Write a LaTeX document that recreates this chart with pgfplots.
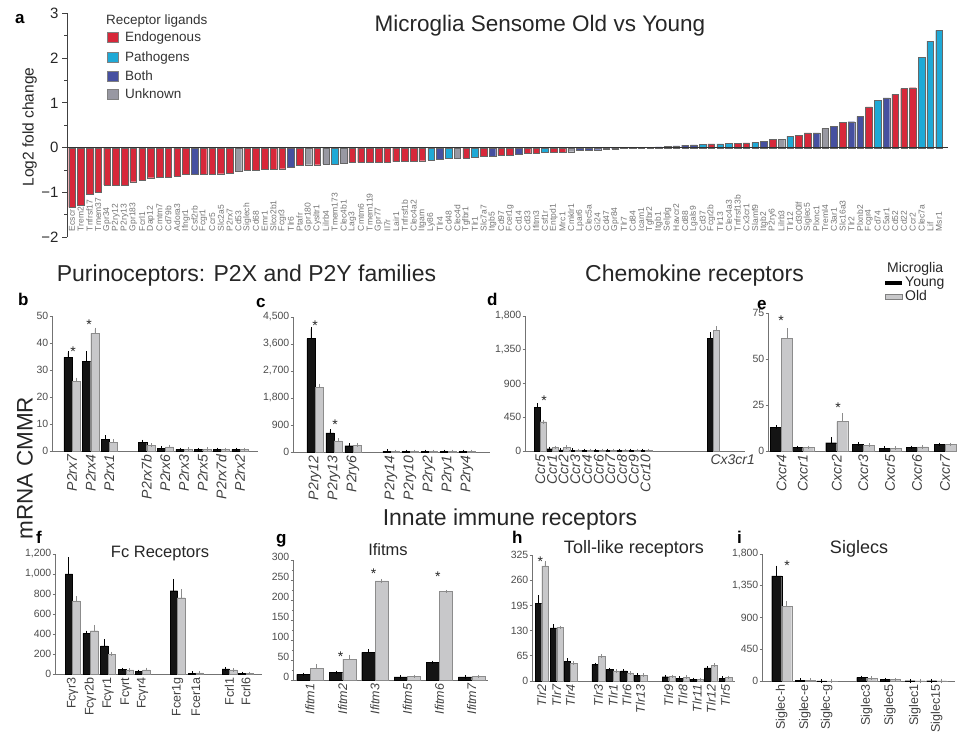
\documentclass[border=0pt]{standalone}
\usepackage{fontspec}
\setmainfont{Liberation Sans}
\usepackage{pgfplots}
\pgfplotsset{compat=1.18}
\definecolor{endo}{HTML}{D7283A}
\definecolor{patho}{HTML}{1FA9D6}
\definecolor{both}{HTML}{4650A0}
\definecolor{unkn}{HTML}{9898A2}
\definecolor{oldc}{HTML}{C8C8CA}
\pgfplotsset{
 lp/.style={
   anchor=south west, scale only axis,
   axis x line*=bottom, axis y line*=left,
   axis line style={black!55, line width=0.7pt},
   ymin=0, clip=false,
   tick align=outside, major tick length=2.5pt, minor tick length=1.5pt,
   xtick style={draw=none},
   ytick style={black!55, line width=0.6pt},
   yticklabel style={font=\fontsize{10.5}{10.5}\selectfont, text=black!70, inner sep=1pt},
   xticklabel style={rotate=90, anchor=east, inner sep=1pt, font=\fontsize{14}{14}\selectfont\itshape, text=black!75},
   /pgf/number format/assume math mode=true,
   /pgf/number format/1000 sep={,},
   ybar, xtick=data,
 },
 lpl/.style={lp, xticklabel style={font=\fontsize{12.5}{12.5}\selectfont\itshape}},
 young/.style={fill=black!92, draw=black, line width=0.3pt,
   error bars/y dir=plus, error bars/y explicit,
   error bars/error bar style={black, line width=0.6pt},
   error bars/error mark options={black, mark size=1.8pt, line width=0.6pt}},
 old/.style={fill=oldc, draw=black!45, line width=0.3pt,
   error bars/y dir=plus, error bars/y explicit,
   error bars/error bar style={black!45, line width=0.6pt},
   error bars/error mark options={black!45, mark size=1.8pt, line width=0.6pt}},
 abar/.style={draw=black!60, line width=0.3pt, bar shift=0pt},
}
\tikzset{star/.style={font=\fontsize{14}{14}\selectfont, anchor=base, yshift=-8pt, inner sep=0pt, text=black!85},
 ptitle/.style={anchor=base, text=black!85},
 plet/.style={anchor=base west, font=\fontsize{17}{17}\selectfont\bfseries, inner sep=0pt}}
\begin{document}
\begin{tikzpicture}[x=1pt,y=1pt]
\useasboundingbox (0,0) rectangle (958,735);
% ---------------- panel a ----------------
\begin{axis}[
  at={(67pt,497.7pt)}, anchor=south west, scale only axis,
  width=881pt, height=224pt,
  xmin=0.43, xmax=101.03, ymin=-2, ymax=3,
  axis y line*=left, axis x line*=bottom, separate axis lines,
  x axis line style={draw=none},
  y axis line style={black!75, line width=0.9pt},
  ytick={-2,-1,0,1,2,3}, yticklabels={−2,−1,0,1,2,3},
  minor y tick num=1,
  tick align=outside, major tick length=5pt, minor tick length=3pt,
  ytick style={black!75, line width=0.8pt},
  yticklabel style={font=\fontsize{15}{15}\selectfont, text=black!85},
  xtick={1,...,100},
  xticklabels={Ecscr,Trem2,Tnfrsf17,Tmem37,Gpr34,P2ry12,P2ry13,Gpr183,Fcrl1,Dap12,Cmtm7,Cd79b,Adora3,Ifngr1,Csf2rb,Fcgr1,Ccr5,Slc2a5,P2rx7,Cd53,Siglech,Cd68,Emr1,Slco2b1,Fcgr3,Tlr6,Ptafr,Gpr180,Cysltr1,Lilrb4,Tmem173,Clec4b1,Lag3,Cmtm6,Tmem119,Gpr77,Il7r,Lair1,Tnfrsf1b,Clec4a2,Itgam,Ly86,Tlr4,Cd48,Clec4d,Tgfbr1,Tlr1,Slc7a7,Itgb5,Cd97,Fcer1g,Cd14,Cd33,Ifitm3,Csf1r,Entpd1,Mrc1,Cmklr1,Lpar6,Clec5a,Gi24,Cd47,Gpr84,Tlr7,Cd84,Icam1,Tgfbr2,Itgb1,Selplg,Havcr2,Cd88,Lgals9,Cd37,Fcgr2b,Tlr13,Clec4a3,Tnfrsf13b,Cx3cr1,Slamf9,Itgb2,P2ry6,Lilrb3,Tlr12,Cd300lf,Siglec5,Plxnc1,Treml4,C3ar1,Slc16a3,Tlr2,Plxnb2,Fcgr4,Cd74,C5ar1,Cd52,Cd22,Ccr2,Clec7a,Lif,Msr1},
  xtick style={draw=none},
  xticklabel style={rotate=90, anchor=west, inner sep=0pt, font=\fontsize{8.5}{8.5}\selectfont, text=black!55},
  xticklabel shift=-11pt,
  ybar, bar width=6.6pt,
  clip=false,
]
\addplot[abar, fill=endo] coordinates {(1,-1.33) (2,-1.28) (3,-1.03) (4,-1.00) (5,-0.83) (6,-0.83) (7,-0.83) (8,-0.76) (9,-0.72) (10,-0.67) (11,-0.66) (12,-0.66) (13,-0.63) (14,-0.60) (16,-0.59) (17,-0.59) (18,-0.58) (19,-0.57) (21,-0.51) (22,-0.50) (23,-0.49) (24,-0.48) (25,-0.47) (27,-0.39) (29,-0.38) (33,-0.33) (34,-0.33) (35,-0.32) (36,-0.32) (37,-0.32) (38,-0.31) (39,-0.31) (40,-0.30) (41,-0.29) (46,-0.23) (48,-0.20) (50,-0.17) (51,-0.16) (53,-0.13) (54,-0.13) (56,-0.10) (57,-0.10) (74,0.085) (77,0.10) (78,0.11) (81,0.18) (84,0.28) (85,0.33) (89,0.56) (92,0.91) (95,1.19) (96,1.32) (97,1.34)};
\addplot[abar, fill=patho] coordinates {(31,-0.36) (42,-0.27) (44,-0.24) (47,-0.22) (55,-0.11) (73,0.08) (75,0.085) (76,0.10) (79,0.115) (83,0.26) (93,1.05) (98,2.01) (99,2.38) (100,2.62)};
\addplot[abar, fill=both] coordinates {(15,-0.60) (26,-0.44) (43,-0.25) (49,-0.19) (52,-0.15) (59,-0.06) (60,-0.05) (61,-0.045) (62,-0.035) (63,-0.025) (64,-0.015) (65,-0.008) (66,0.005) (67,0.012) (68,0.02) (69,0.025) (70,0.04) (71,0.055) (72,0.065) (80,0.145) (86,0.33) (88,0.47) (90,0.58) (91,0.70) (94,1.11)};
\addplot[abar, fill=unkn] coordinates {(20,-0.52) (28,-0.38) (30,-0.36) (32,-0.35) (45,-0.24) (58,-0.09) (82,0.19) (87,0.43)};
\addplot[black!80, line width=0.9pt, sharp plot, forget plot] coordinates {(0.43,0) (101.03,0)};
\end{axis}
\node[plet] at (15,711.7) {a};
\node[rotate=90, font=\fontsize{15.5}{15.5}\selectfont, text=black!85] at (29.5,608) {Log2 fold change};
\node[ptitle, font=\fontsize{22.5}{22.5}\selectfont] at (540,703.3) {Microglia Sensome Old vs Young};
\node[anchor=base west, font=\fontsize{13.5}{13.5}\selectfont, text=black!80, inner sep=0pt] at (106,710) {Receptor ligands};
\filldraw[fill=endo, draw=black!50, line width=0.3pt] (107,693) rectangle (118,703);
\filldraw[fill=patho, draw=black!50, line width=0.3pt] (107,673) rectangle (118,683);
\filldraw[fill=both, draw=black!50, line width=0.3pt] (107,654) rectangle (118,664);
\filldraw[fill=unkn, draw=black!50, line width=0.3pt] (107,636) rectangle (118,646);
\node[anchor=base west, font=\fontsize{13.5}{13.5}\selectfont, text=black!80, inner sep=0pt] at (125,693.5) {Endogenous};
\node[anchor=base west, font=\fontsize{13.5}{13.5}\selectfont, text=black!80, inner sep=0pt] at (125,673.5) {Pathogens};
\node[anchor=base west, font=\fontsize{13.5}{13.5}\selectfont, text=black!80, inner sep=0pt] at (125,654.5) {Both};
\node[anchor=base west, font=\fontsize{13.5}{13.5}\selectfont, text=black!80, inner sep=0pt] at (125,636.5) {Unknown};
% ---------------- section titles ----------------
\node[ptitle, font=\fontsize{23}{23}\selectfont] at (246.5,453) {Purinoceptors: P2X and P2Y families};
\node[ptitle, font=\fontsize{23}{23}\selectfont] at (694.5,453) {Chemokine receptors};
\node[ptitle, font=\fontsize{23}{23}\selectfont] at (510,209) {Innate immune receptors};
\node[rotate=90, font=\fontsize{22.5}{22.5}\selectfont, text=black!85] at (25,267) {mRNA CMMR};
% Microglia legend
\node[anchor=base west, font=\fontsize{14}{14}\selectfont, text=black!85, inner sep=0pt] at (887,462.5) {Microglia};
\fill[black] (885,449.7) rectangle (901.7,454.3);
\node[anchor=base west, font=\fontsize{14}{14}\selectfont, text=black!85, inner sep=0pt] at (905,448.5) {Young};
\filldraw[fill=oldc, draw=black!50, line width=0.4pt] (885,436) rectangle (901.7,441);
\node[anchor=base west, font=\fontsize{14}{14}\selectfont, text=black!85, inner sep=0pt] at (905,434.7) {Old};
% ---------------- panel b ----------------
\begin{axis}[lp, at={(52pt,284pt)}, width=206pt, height=135pt, xmin=52, xmax=258, ymax=50,
  ytick={0,10,...,50}, bar width=8.2pt,
  xticklabels={P2rx7,P2rx4,P2rx1,P2rx7b,P2rx6,P2rx3,P2rx5,P2rx7d,P2rx2}]
\addplot[young, bar shift=-4.1pt] coordinates {(72,34.7) +- (0,1.7) (90.7,33.3) +- (0,2.9) (109.3,4.4) +- (0,0.8) (146.7,3.2) +- (0,0.3) (165.3,1.0) +- (0,0.2) (184,0.6) +- (0,0) (202.7,0.5) +- (0,0) (221.3,0.6) +- (0,0) (240,0.6) +- (0,0)};
\addplot[old, bar shift=4.1pt] coordinates {(72,25.7) +- (0,0.8) (90.7,43.6) +- (0,1.4) (109.3,3.2) +- (0,0.4) (146.7,2.0) +- (0,0.2) (165.3,1.5) +- (0,0.2) (184,0.7) +- (0,0) (202.7,0.7) +- (0,0) (221.3,0.6) +- (0,0) (240,0.6) +- (0,0)};
\node[star] at (axis cs:73,37.8) {*};
\node[star] at (axis cs:89,47.8) {*};
\end{axis}
\node[plet] at (18,429) {b};
% ---------------- panel c ----------------
\begin{axis}[lp, at={(293pt,283pt)}, width=197pt, height=135pt, xmin=293, xmax=490, ymax=4500,
  ytick={0,900,...,4500}, bar width=8.2pt,
  xticklabels={P2ry12,P2ry13,P2ry6,P2ry14,P2ry10,P2ry2,P2ry1,P2ry4}]
\addplot[young, bar shift=-4.1pt] coordinates {(315,3780) +- (0,320) (334,640) +- (0,50) (353,210) +- (0,15) (391,25) +- (0,0) (410,20) +- (0,0) (429,20) +- (0,0) (448,20) +- (0,0) (467,20) +- (0,0)};
\addplot[old, bar shift=4.1pt] coordinates {(315,2150) +- (0,70) (334,370) +- (0,20) (353,230) +- (0,10) (391,20) +- (0,0) (410,20) +- (0,0) (429,20) +- (0,0) (448,20) +- (0,0) (467,20) +- (0,0)};
\node[star] at (axis cs:315,4333) {*};
\node[star] at (axis cs:335,1033) {*};
\end{axis}
\node[plet] at (256,427.7) {c};
% ---------------- panel d ----------------
\begin{axis}[lp, at={(525pt,284pt)}, width=220pt, height=135pt, xmin=525, xmax=745, ymax=1800,
  ytick={0,450,...,1800}, bar width=6.2pt,
  xtick={540.4,552,563.5,575.3,587,598.7,610.4,622,633.8,645.5},
  xticklabels={Ccr5,Ccr1,Ccr2,Ccr3,Ccr4,Ccr6,Ccr7,Ccr8,Ccr9,Ccr10},
  extra x ticks={713.3}, extra x tick labels={\textit{Cx3cr1}},
  extra x tick style={xticklabel style={rotate=-90, anchor=north west, xshift=-4pt}}]
\addplot[young, bar shift=-3.1pt] coordinates {(540.4,580) +- (0,30) (552,30) +- (0,3) (563.5,15) +- (0,3) (575.3,10) +- (0,0) (587,8) +- (0,0) (598.7,8) +- (0,0) (610.4,6) +- (0,0) (622,6) +- (0,0) (633.8,6) +- (0,0) (645.5,6) +- (0,0) (713.3,1500) +- (0,60)};
\addplot[old, bar shift=3.1pt] coordinates {(540.4,390) +- (0,0) (552,45) +- (0,4) (563.5,50) +- (0,5) (575.3,8) +- (0,0) (587,8) +- (0,0) (598.7,6) +- (0,0) (610.4,6) +- (0,0) (622,6) +- (0,0) (633.8,6) +- (0,0) (645.5,6) +- (0,0) (713.3,1610) +- (0,30)};
\node[star] at (axis cs:544,707) {*};
\end{axis}
\node[plet] at (487,429) {d};
% ---------------- panel e ----------------
\begin{axis}[lp, at={(768pt,284pt)}, width=187pt, height=138pt, xmin=768, xmax=955, ymax=75,
  ytick={0,25,50,75}, bar width=11pt,
  xticklabels={Cxcr4,Cxcr1,Cxcr2,Cxcr3,Cxcr5,Cxcr6,Cxcr7}]
\addplot[young, bar shift=-5.5pt] coordinates {(781.5,13) +- (0,0) (802.7,2) +- (0,0) (836.7,4.5) +- (0,2) (863.3,3.8) +- (0,0) (890,1.5) +- (0,0) (917,2) +- (0,0) (945,3.6) +- (0,0)};
\addplot[old, bar shift=5.5pt] coordinates {(781.5,61.2) +- (0,4.6) (802.7,2) +- (0,0) (836.7,16) +- (0,3.6) (863.3,3.2) +- (0,0) (890,1.5) +- (0,0) (917,2.2) +- (0,0) (945,3.6) +- (0,0)};
\node[star] at (axis cs:781,72.8) {*};
\node[star] at (axis cs:838,25) {*};
\end{axis}
\node[plet] at (757,425.7) {e};
% ---------------- panel f ----------------
\begin{axis}[lpl, at={(55pt,61pt)}, width=207pt, height=120pt, xmin=55, xmax=262, ymax=1200,
  ytick={0,200,...,1200}, bar width=7.5pt,
  xticklabel style={font=\fontsize{12.5}{12.5}\selectfont},
  xticklabels={Fcγr3,Fcγr2b,Fcγr1,Fcγrt,Fcγr4,Fcer1g,Fcer1a,Fcrl1,Fcrl6}]
\addplot[young, bar shift=-3.75pt] coordinates {(72.5,1000) +- (0,150) (90.3,407) +- (0,8) (108,280) +- (0,50) (126,45) +- (0,0) (142.5,25) +- (0,0) (177.5,833) +- (0,100) (195.8,8) +- (0,0) (229.5,50) +- (0,0) (245.8,5) +- (0,0)};
\addplot[old, bar shift=3.75pt] coordinates {(72.5,730) +- (0,30) (90.3,433) +- (0,40) (108,197) +- (0,5) (126,40) +- (0,0) (142.5,40) +- (0,5) (177.5,763) +- (0,67) (195.8,10) +- (0,0) (229.5,40) +- (0,0) (245.8,5) +- (0,0)};
\end{axis}
\node[plet] at (36,191.7) {f};
\node[ptitle, font=\fontsize{16.5}{16.5}\selectfont] at (160,177) {Fc Receptors};
% ---------------- panel g ----------------
\begin{axis}[lpl, at={(293pt,55pt)}, width=195pt, height=120pt, xmin=293, xmax=488, ymax=300,
  ytick={0,50,...,300}, minor y tick num=1, bar width=13.3pt,
  yticklabel style={yshift=3pt},
  xticklabels={Ifitm1,Ifitm2,Ifitm3,Ifitm5,Ifitm6,Ifitm7}]
\addplot[young, bar shift=-6.65pt] coordinates {(310,14) +- (0,0) (342.7,19) +- (0,0) (375,69) +- (0,3) (407.3,8) +- (0,0) (439.3,44) +- (0,0) (471.7,8) +- (0,0)};
\addplot[old, bar shift=6.65pt] coordinates {(310,29) +- (0,6) (342.7,52) +- (0,7) (375,248) +- (0,0) (407.3,9) +- (0,0) (439.3,221) +- (0,0) (471.7,9) +- (0,0)};
\node[star] at (axis cs:340.7,65) {*};
\node[star] at (axis cs:373.7,272.5) {*};
\node[star] at (axis cs:437.8,265) {*};
\end{axis}
\node[plet] at (276,191) {g};
\node[ptitle, font=\fontsize{16.5}{16.5}\selectfont] at (388,179) {Ifitms};
% ---------------- panel h ----------------
\begin{axis}[lpl, at={(532pt,54pt)}, width=203pt, height=126pt, xmin=532, xmax=735, ymax=325,
  ytick={0,65,...,325}, bar width=6.5pt,
  xticklabels={Tlr2,Tlr7,Tlr4,Tlr3,Tlr1,Tlr6,Tlr13,Tlr9,Tlr8,Tlr11,Tlr12,Tlr5}]
\addplot[young, bar shift=-3.25pt] coordinates {(541.7,200) +- (0,16) (556.7,137) +- (0,5) (570.3,50) +- (0,4) (598.3,43) +- (0,0) (613,30) +- (0,0) (627,26) +- (0,0) (640.3,15) +- (0,0) (668.7,11) +- (0,0) (683,7) +- (0,0) (697,4) +- (0,0) (711,34) +- (0,0) (725.3,7) +- (0,0)};
\addplot[old, bar shift=3.25pt] coordinates {(541.7,297) +- (0,8) (556.7,138) +- (0,0) (570.3,46) +- (0,0) (598.3,64) +- (0,0) (613,26) +- (0,0) (627,21) +- (0,0) (640.3,15) +- (0,0) (668.7,12) +- (0,0) (683,10) +- (0,0) (697,4) +- (0,0) (711,41) +- (0,0) (725.3,9) +- (0,0)};
\node[star] at (axis cs:540.3,315) {*};
\end{axis}
\node[plet] at (512,191.7) {h};
\node[ptitle, font=\fontsize{18}{18}\selectfont] at (634,181) {Toll-like receptors};
% ---------------- panel i ----------------
\begin{axis}[lpl, at={(762pt,54pt)}, width=193pt, height=127pt, xmin=762, xmax=955, ymax=1800,
  ytick={0,450,...,1800}, bar width=10pt,
  xticklabel style={font=\fontsize{12.5}{12.5}\selectfont},
  xticklabels={Siglec-h,Siglec-e,Siglec-g,Siglec3,Siglec5,Siglec1,Siglec15}]
\addplot[young, bar shift=-5pt] coordinates {(781.7,1491) +- (0,120) (805,10) +- (0,0) (826.7,2) +- (0,0) (866.7,50) +- (0,0) (890,20) +- (0,0) (915,4) +- (0,0) (936.7,4) +- (0,0)};
\addplot[old, bar shift=5pt] coordinates {(781.7,1062) +- (0,48) (805,10) +- (0,0) (826.7,2) +- (0,0) (866.7,40) +- (0,0) (890,20) +- (0,0) (915,4) +- (0,0) (936.7,4) +- (0,0)};
\node[star] at (axis cs:787,1686) {*};
\end{axis}
\node[plet] at (737,191.7) {i};
\node[ptitle, font=\fontsize{18}{18}\selectfont] at (859,181) {Siglecs};
\end{tikzpicture}
\end{document}
